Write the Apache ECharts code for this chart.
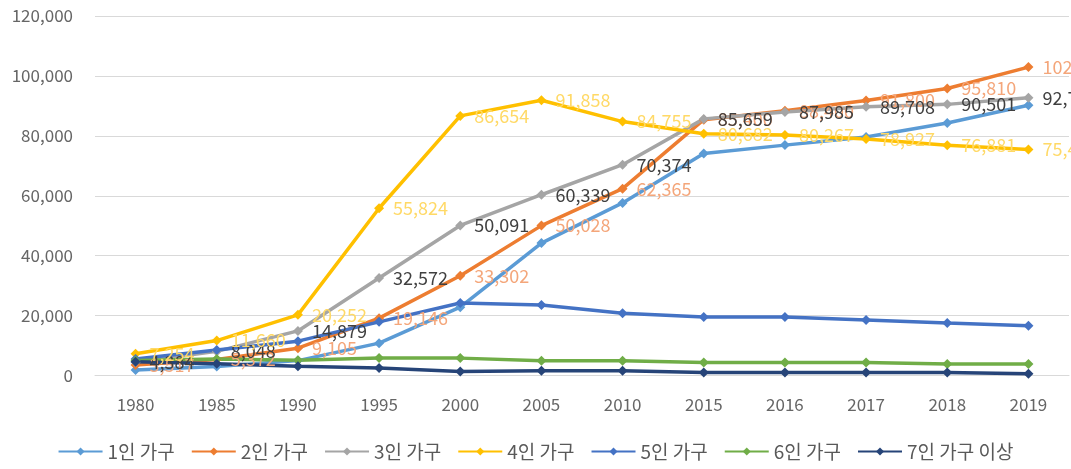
<!DOCTYPE html>
<html>
<head>
<meta charset="utf-8">
<script src="https://cdn.jsdelivr.net/npm/echarts@6/dist/echarts.min.js"></script>
<style>
  html, body { margin: 0; padding: 0; background: #fff; }
  #chart { width: 1071px; height: 469px; }
</style>
</head>
<body>
<div id="chart"></div>
<script>
// Households by size, 1980–2019
const years = ['1980', '1985', '1990', '1995', '2000', '2005', '2010', '2015', '2016', '2017', '2018', '2019'];

const one   = [1797, 2997, 4978, 10800, 22800, 44200, 57600, 74100, 76900, 79600, 84300, 90200];
const two   = [3517, 5372, 9105, 19146, 33302, 50028, 62365, 85400, 88400, 91800, 95810, 102950];
const three = [4384, 8048, 14879, 32572, 50091, 60339, 70374, 85659, 87985, 89708, 90501, 92730];
const four  = [7254, 11660, 20252, 55824, 86654, 91858, 84755, 80682, 80267, 78927, 76881, 75412];
const five  = [5512, 8510, 11466, 17900, 24200, 23500, 20800, 19500, 19500, 18500, 17500, 16600];
const six   = [4976, 5502, 5104, 5800, 5800, 4900, 4900, 4300, 4300, 4300, 3800, 3800];
const seven = [4560, 3908, 3112, 2500, 1300, 1600, 1600, 1000, 1000, 1000, 1000, 600];

const seriesNames = ['1인 가구', '2인 가구', '3인 가구', '4인 가구', '5인 가구', '6인 가구', '7인 가구 이상'];
const seriesData = [one, two, three, four, five, six, seven];
const colors = ['#5B9BD5', '#ED7D31', '#A5A5A5', '#FFC000', '#4472C4', '#70AD47', '#264478'];
// value labels are shown for 2-, 3- and 4-person households only
const labelColors = [null, '#F4A67A', '#404040', '#FFD966', null, null, null];

const font = '"Noto Sans CJK KR", "Noto Sans", sans-serif';
const fmt = v => v.toLocaleString('en-US');

const chart = echarts.init(document.getElementById('chart'), null, { renderer: 'canvas' });

chart.setOption({
  animation: false,
  color: colors,
  grid: { left: 95, right: 2, top: 16, bottom: 93.5, containLabel: false },
  legend: {
    bottom: 3,
    left: 'center',
    itemWidth: 44,
    itemHeight: 10,
    itemGap: 16,
    textStyle: { fontFamily: font, fontSize: 19, color: '#595959' },
    data: seriesNames
  },
  xAxis: {
    type: 'category',
    data: years,
    boundaryGap: true,
    axisLine: { show: true, lineStyle: { color: '#D9D9D9', width: 1 } },
    axisTick: { show: false },
    axisLabel: { fontFamily: font, fontSize: 17, color: '#666', margin: 21 }
  },
  yAxis: {
    type: 'value',
    min: 0,
    max: 120000,
    interval: 20000,
    axisLine: { show: false },
    axisTick: { show: false },
    splitLine: { lineStyle: { color: '#D9D9D9', width: 1 } },
    axisLabel: { fontFamily: font, fontSize: 17, color: '#666', margin: 22, formatter: fmt }
  },
  series: seriesData.map((d, i) => ({
    name: seriesNames[i],
    type: 'line',
    data: d,
    symbol: 'diamond',
    symbolSize: 10,
    lineStyle: { width: 3.5, color: colors[i] },
    itemStyle: { color: colors[i] },
    label: {
      show: labelColors[i] !== null,
      position: 'right',
      distance: 9,
      fontFamily: font,
      fontSize: 18,
      color: labelColors[i] || '#000',
      formatter: p => fmt(p.value)
    },
    labelLayout: { hideOverlap: false }
  }))
});
</script>
</body>
</html>
